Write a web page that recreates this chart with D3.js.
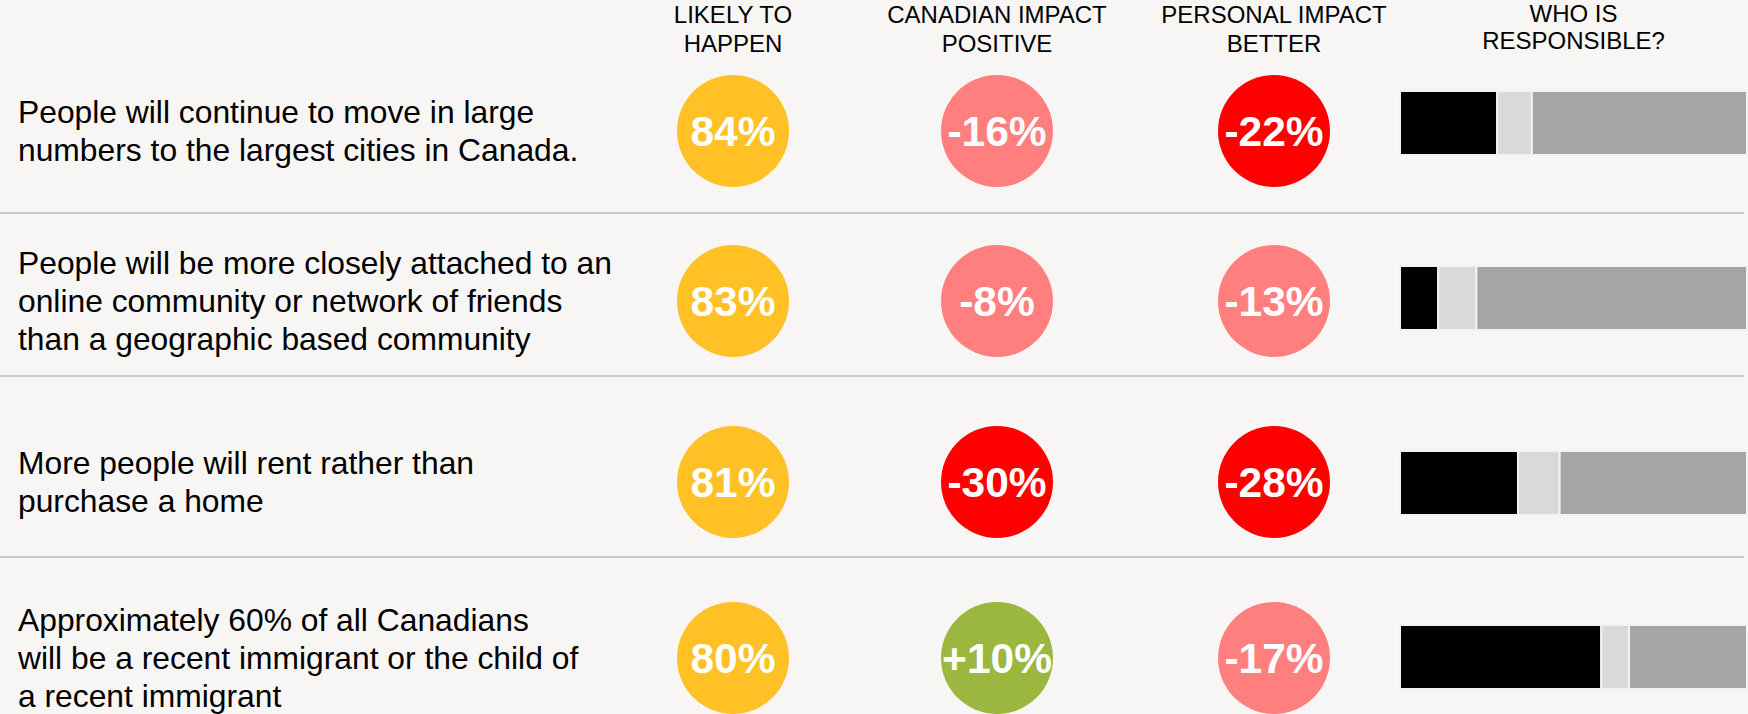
<!DOCTYPE html>
<html>
<head>
<meta charset="utf-8">
<script src="https://cdn.jsdelivr.net/npm/d3@7"></script>
<style>
  html, body { margin: 0; padding: 0; background: #F7F6F4; }
  svg { display: block; font-family: "Liberation Sans", Arial, sans-serif; }
</style>
</head>
<body>
<svg id="chart" width="1748" height="714"></svg>
<script>
// Statements (each one is a row, already broken into display lines)
const statements = [
  ["People will continue to move in large", "numbers to the largest cities in Canada."],
  ["People will be more closely attached to an", "online community or network of friends", "than a geographic based community"],
  ["More people will rent rather than", "purchase a home"],
  ["Approximately 60% of all Canadians", "will be a recent immigrant or the child of", "a recent immigrant"]
];

// Column headings
const headers = [
  ["LIKELY TO", "HAPPEN"],
  ["CANADIAN IMPACT", "POSITIVE"],
  ["PERSONAL IMPACT", "BETTER"],
  ["WHO IS", "RESPONSIBLE?"]
];

// Values (percent)
const likelyToHappen   = [84, 83, 81, 80];
const canadianImpact   = [-16, -8, -30, 10];
const personalImpact   = [-22, -13, -28, -17];

// Who is responsible: stacked shares (percent)
const responsibleBlack = [28, 11, 34, 58];
const responsibleLight = [10, 11, 12, 8];
const responsibleGrey  = [62, 78, 54, 34];

// ---- layout ----
const W = 1748, H = 714;
const svg = d3.select("#chart");
svg.append("rect").attr("width", W).attr("height", H).attr("fill", "#F7F6F4");

const rowIds = d3.range(statements.length);
const rowY   = d3.scaleOrdinal().domain(rowIds).range([131, 301, 482, 658]);
const barY   = d3.scaleOrdinal().domain(rowIds).range([123, 298, 483, 657]);
const sepY   = [213, 376, 557];

const circleCols = ["likely", "canadian", "personal"];
const colX = d3.scaleOrdinal().domain(circleCols).range([733, 997, 1274]);

const barX = d3.scaleLinear().domain([0, 100]).range([1400, 1747]);
const barH = 64;
const radius = 56;

const colors = {
  yellow: "#FFC125",
  salmon: "#FF7F7F",
  red:    "#FF0000",
  green:  "#9BB73F"
};
function impactColor(v) {
  if (v > 0) return colors.green;
  if (v <= -20) return colors.red;
  return colors.salmon;
}
const fmtLikely = v => v + "%";
const fmtImpact = v => (v > 0 ? "+" : "") + v + "%";

// ---- separators ----
svg.selectAll("line.sep").data(sepY).join("line")
  .attr("class", "sep")
  .attr("x1", 0).attr("x2", 1744)
  .attr("y1", d => d).attr("y2", d => d)
  .attr("stroke", "#CBCAC6").attr("stroke-width", 2);

// ---- headers ----
const headerX = [colX("likely"), colX("canadian"), colX("personal"), (barX(0) + barX(100)) / 2];
headers.forEach((lines, i) => {
  const top = i === 3 ? 22 : 23;
  const gap = i === 3 ? 27 : 29;
  svg.append("text")
    .attr("text-anchor", "middle")
    .attr("font-size", 24)
    .attr("fill", "#000")
    .selectAll("tspan").data(lines).join("tspan")
      .attr("x", headerX[i])
      .attr("y", (d, j) => top + j * gap)
      .text(d => d);
});

// ---- statement labels ----
const lineGap = 38;
svg.selectAll("text.label").data(statements).join("text")
  .attr("class", "label")
  .attr("font-size", 31.8)
  .attr("fill", "#000")
  .each(function(lines, i) {
    const first = rowY(i) - (lines.length - 1) * lineGap / 2 + 11;
    d3.select(this).selectAll("tspan").data(lines).join("tspan")
      .attr("x", 18)
      .attr("y", (d, j) => first + j * lineGap)
      .text(d => d);
  });

// ---- circles ----
const circleData = [];
rowIds.forEach(i => {
  circleData.push({ row: i, col: "likely",   value: likelyToHappen[i], fill: colors.yellow, label: fmtLikely(likelyToHappen[i]) });
  circleData.push({ row: i, col: "canadian", value: canadianImpact[i], fill: impactColor(canadianImpact[i]), label: fmtImpact(canadianImpact[i]) });
  circleData.push({ row: i, col: "personal", value: personalImpact[i], fill: impactColor(personalImpact[i]), label: fmtImpact(personalImpact[i]) });
});

const bubbles = svg.selectAll("g.bubble").data(circleData).join("g")
  .attr("class", "bubble")
  .attr("transform", d => `translate(${colX(d.col)},${rowY(d.row)})`);
bubbles.append("circle").attr("r", radius).attr("fill", d => d.fill);
bubbles.append("text")
  .attr("text-anchor", "middle")
  .attr("dy", "0.36em")
  .attr("font-size", 42.5)
  .attr("font-weight", "bold")
  .attr("fill", "#fff")
  .text(d => d.label);

// ---- responsibility bars ----
const keys = ["black", "light", "grey"];
const barRows = rowIds.map(i => ({
  row: i, black: responsibleBlack[i], light: responsibleLight[i], grey: responsibleGrey[i]
}));
const stack = d3.stack().keys(keys)(barRows);
const segColor = d3.scaleOrdinal().domain(keys).range(["#000000", "#D9D9D9", "#A5A5A5"]);

svg.selectAll("g.series").data(stack).join("g")
  .attr("class", "series")
  .attr("fill", d => segColor(d.key))
  .selectAll("rect").data(d => d).join("rect")
    .attr("x", d => barX(d[0]))
    .attr("width", d => barX(d[1]) - barX(d[0]))
    .attr("y", d => barY(d.data.row) - barH / 2)
    .attr("height", barH)
    .attr("stroke", "#F2F2F2")
    .attr("stroke-width", 2);
</script>
</body>
</html>
